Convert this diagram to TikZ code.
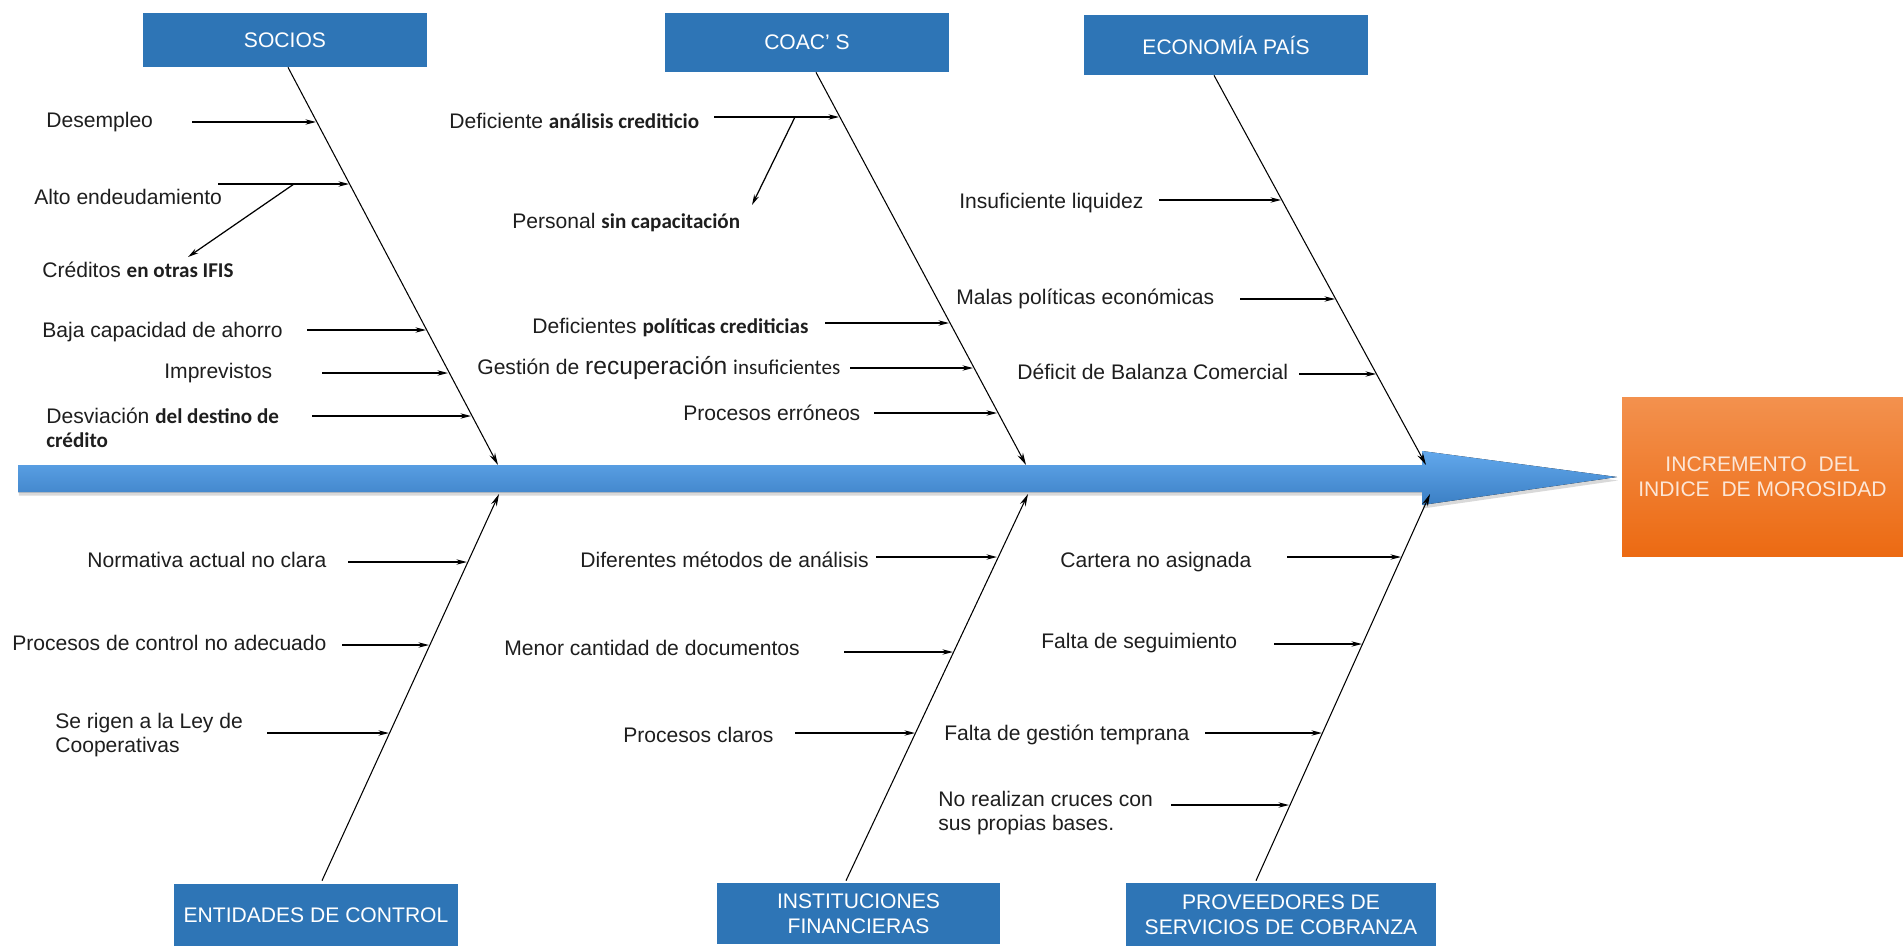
\documentclass[tikz,border=0pt]{standalone}
\usepackage{fontspec}
\setmainfont{Liberation Sans}
\newfontfamily\calib{Carlito}
\usetikzlibrary{arrows.meta,shadows}
\definecolor{cajaazul}{HTML}{2E75B6}
\definecolor{espinaalta}{HTML}{62A8EC}
\definecolor{espinabaja}{HTML}{3B7FC4}
\definecolor{naranjaalta}{HTML}{F3914E}
\definecolor{naranjabaja}{HTML}{EC6A12}
\definecolor{textonaranja}{HTML}{FCE6D6}
\definecolor{texto}{HTML}{1E1E1E}

\begin{document}
\begin{tikzpicture}[
   x=0.02cm,y=-0.02cm,
   categoria/.style={fill=cajaazul,text=white,minimum width=5.68cm,align=center,inner sep=2pt,font=\fontsize{12}{14}\selectfont},
   causa/.style={anchor=west,inner sep=0pt,align=left,text=texto,font=\fontsize{12}{14}\selectfont},
   espina/.style={draw=black,line width=0.6pt,-{Stealth[length=7pt,width=3.5pt]}},
   flecha/.style={draw=black,line width=0.7pt,-{Stealth[length=6pt,width=3pt]}}
 ]
  \useasboundingbox (0,0) rectangle (1903,946);

  % eje central
  \fill[top color=espinaalta,bottom color=espinabaja,drop shadow={opacity=0.3,shadow xshift=0.5pt,shadow yshift=-2pt}]
    (18,465) -- (1422,465) -- (1422,451) -- (1617,477) -- (1422,505) -- (1422,492) -- (18,492) -- cycle;
  \node[top color=naranjaalta,bottom color=naranjabaja,minimum width=5.62cm,minimum height=3.2cm,
        text=textonaranja,align=center,font=\fontsize{12}{14}\selectfont] (efecto) at (1762.5,477)
    {INCREMENTO\ \ DEL\\INDICE\ \ DE MOROSIDAD};

  % categorias
  \node[categoria,minimum height=1.08cm] (socios) at (285,40) {SOCIOS};
  \node[categoria,minimum height=1.18cm] (coacs) at (807,42.5) {COAC' S};
  \node[categoria,minimum height=1.2cm] (economia) at (1226,45) {ECONOMÍA PAÍS};
  \node[categoria,minimum height=1.24cm] (entidades) at (316,915) {ENTIDADES DE CONTROL};
  \node[categoria,minimum height=1.22cm] (instituciones) at (858.5,913.5) {INSTITUCIONES\\FINANCIERAS};
  \node[categoria,minimum width=6.2cm,minimum height=1.26cm] (proveedores) at (1281,914.5) {PROVEEDORES DE\\SERVICIOS DE COBRANZA};

  \coordinate (e1) at (498,465);
  \coordinate (e2) at (1026,465);
  \coordinate (e3) at (1426,465);
  \coordinate (e4) at (499,494);
  \coordinate (e5) at (1028,494);
  \coordinate (e6) at (1430,494);
  \draw[espina] ([xshift=0.06cm]socios.south) -- (e1);
  \draw[espina] ([xshift=0.18cm]coacs.south) -- (e2);
  \draw[espina] ([xshift=-0.24cm]economia.south) -- (e3);
  \draw[espina] ([xshift=0.12cm,yshift=0.06cm]entidades.north) -- (e4);
  \draw[espina] ([xshift=-0.25cm,yshift=0.04cm]instituciones.north) -- (e5);
  \draw[espina] ([xshift=-0.5cm,yshift=0.04cm]proveedores.north) -- (e6);

  % SOCIOS
  \node[causa] (c1) at (46,122) {Desempleo};
  \node[causa] (c2) at (34,197) {Alto endeudamiento};
  \node[causa] (c3) at (42,270) {Créditos {\calib\bfseries en otras IFIS}};
  \node[causa] (c4) at (42,332) {Baja capacidad de ahorro};
  \node[causa] (c5) at (164,373) {Imprevistos};
  \node[causa] (c6) at (46,428) {Desviación {\calib\bfseries del destino de}\\{\calib\bfseries crédito}};
  \coordinate (t1) at (192,122); \coordinate (h1) at (316,122);
  \coordinate (t2) at (218,184); \coordinate (h2) at (349,184);
  \coordinate (t4) at (307,330); \coordinate (h4) at (426,330);
  \coordinate (t5) at (322,373); \coordinate (h5) at (448,373);
  \coordinate (t6) at (312,416); \coordinate (h6) at (471,416);
  \coordinate (r1) at (294,184); \coordinate (r1f) at (188,257);
  \draw[flecha] (t1) -- (h1);
  \draw[flecha] (t2) -- (h2);
  \draw[flecha] (r1) -- (r1f);
  \draw[flecha] (t4) -- (h4);
  \draw[flecha] (t5) -- (h5);
  \draw[flecha] (t6) -- (h6);

  % COAC'S
  \node[causa] (d1) at (449,121) {Deficiente {\calib\bfseries análisis crediticio}};
  \node[causa] (d2) at (512,223) {Personal {\calib\bfseries sin capacitación}};
  \node[causa] (d3) at (532,328) {Deficientes {\calib\bfseries políticas crediticias}};
  \node[causa] (d4) at (477,368) {Gestión de {\fontsize{14}{14}\selectfont recuperación} {\calib insuficientes}};
  \node[causa] (d5) at (683,413) {Procesos erróneos};
  \coordinate (u1) at (714,117); \coordinate (k1) at (839,117);
  \coordinate (u3) at (825,323); \coordinate (k3) at (949,323);
  \coordinate (u4) at (850,368); \coordinate (k4) at (973,368);
  \coordinate (u5) at (874,413); \coordinate (k5) at (997,413);
  \coordinate (r2) at (795,117); \coordinate (r2f) at (752,205);
  \draw[flecha] (u1) -- (k1);
  \draw[flecha] (r2) -- (r2f);
  \draw[flecha] (u3) -- (k3);
  \draw[flecha] (u4) -- (k4);
  \draw[flecha] (u5) -- (k5);

  % ECONOMIA PAIS
  \node[causa] (f1) at (959,203) {Insuficiente liquidez};
  \node[causa] (f2) at (956,299) {Malas políticas económicas};
  \node[causa] (f3) at (1017,372) {Déficit de Balanza Comercial};
  \coordinate (v1) at (1159,200); \coordinate (m1) at (1281,200);
  \coordinate (v2) at (1240,299); \coordinate (m2) at (1335,299);
  \coordinate (v3) at (1299,374); \coordinate (m3) at (1376,374);
  \draw[flecha] (v1) -- (m1);
  \draw[flecha] (v2) -- (m2);
  \draw[flecha] (v3) -- (m3);

  % ENTIDADES DE CONTROL
  \node[causa] (g1) at (87,560) {Normativa actual no clara};
  \node[causa] (g2) at (12,643) {Procesos de control no adecuado};
  \node[causa] (g3) at (55,735) {Se rigen a la Ley de\\Cooperativas};
  \coordinate (w1) at (348,562); \coordinate (n1) at (467,562);
  \coordinate (w2) at (342,645); \coordinate (n2) at (429,645);
  \coordinate (w3) at (267,733); \coordinate (n3) at (389,733);
  \draw[flecha] (w1) -- (n1);
  \draw[flecha] (w2) -- (n2);
  \draw[flecha] (w3) -- (n3);

  % INSTITUCIONES FINANCIERAS
  \node[causa] (i1) at (580,560) {Diferentes métodos de análisis};
  \node[causa] (i2) at (504,648) {Menor cantidad de documentos};
  \node[causa] (i3) at (623,735) {Procesos claros};
  \coordinate (y1) at (876,557); \coordinate (o1) at (997,557);
  \coordinate (y2) at (844,652); \coordinate (o2) at (953,652);
  \coordinate (y3) at (795,733); \coordinate (o3) at (915,733);
  \draw[flecha] (y1) -- (o1);
  \draw[flecha] (y2) -- (o2);
  \draw[flecha] (y3) -- (o3);

  % PROVEEDORES
  \node[causa] (p1) at (1060,562) {Cartera no asignada};
  \node[causa] (p2) at (1041,643) {Falta de seguimiento};
  \node[causa] (p3) at (944,735) {Falta de gestión temprana};
  \node[causa] (p4) at (938,813) {No realizan cruces con\\sus propias bases.};
  \coordinate (z1) at (1287,557); \coordinate (q1) at (1401,557);
  \coordinate (z2) at (1274,644); \coordinate (q2) at (1362,644);
  \coordinate (z3) at (1205,733); \coordinate (q3) at (1322,733);
  \coordinate (z4) at (1171,805); \coordinate (q4) at (1289,805);
  \draw[flecha] (z1) -- (q1);
  \draw[flecha] (z2) -- (q2);
  \draw[flecha] (z3) -- (q3);
  \draw[flecha] (z4) -- (q4);
\end{tikzpicture}
\end{document}
